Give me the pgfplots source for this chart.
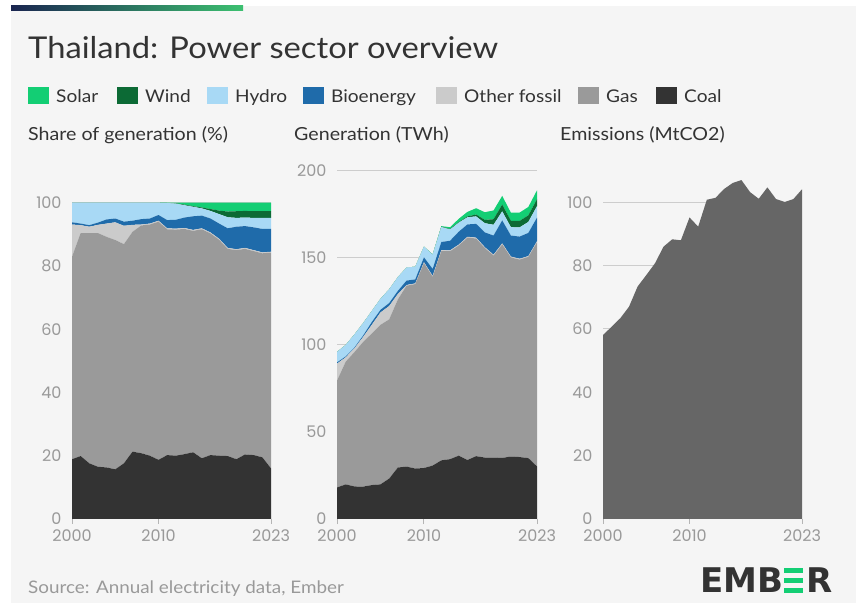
\documentclass[border=0pt]{standalone}
\usepackage{pgfplots}
\pgfplotsset{compat=1.18}
\usepackage{pgfplotstable}
\usepackage{fontspec}
\setmainfont{Lato}[FakeStretch=1.09]
\newfontfamily\numfont{Poppins}
\newfontfamily\logofont{DejaVu Sans}

\definecolor{bg}{HTML}{F5F5F5}
\definecolor{solar}{HTML}{13CE74}
\definecolor{wind}{HTML}{0C6A35}
\definecolor{hydro}{HTML}{A8D9F5}
\definecolor{bio}{HTML}{1F6BAA}
\definecolor{otherfossil}{HTML}{CBCBCB}
\definecolor{gas}{HTML}{9A9A9A}
\definecolor{coal}{HTML}{333333}
\definecolor{emis}{HTML}{666666}
\definecolor{textdark}{HTML}{333333}
\definecolor{tickgray}{HTML}{999999}
\definecolor{gridgray}{HTML}{CDCDCD}
\definecolor{axisgray}{HTML}{B5B5B5}
\definecolor{navy}{HTML}{1A2550}
\definecolor{embergreen}{HTML}{3CC070}

% share of generation (%)
\pgfplotstableread{
year coal gas other bio hydro wind solar
2000 18.9 64.0 10.2 0.7 6.2 0 0
2001 19.9 70.5 2.5 0.5 6.6 0 0
2002 17.6 72.8 2.0 0.5 7.1 0 0
2003 16.5 73.9 2.6 0.7 6.3 0 0
2004 16.3 72.9 4.2 1.3 5.3 0 0
2005 15.7 72.5 5.6 1.2 5.0 0 0
2006 17.6 69.3 5.8 1.3 6.0 0 0
2007 21.3 69.5 2.2 1.3 5.7 0 0
2008 20.8 72.0 0.3 1.7 5.2 0 0
2009 20.0 73.1 0.3 1.6 5.0 0 0
2010 18.7 75.3 0.3 1.8 3.9 0 0
2011 20.2 71.4 0.3 2.6 5.4 0 0.1
2012 20.0 71.5 0.3 2.8 5.1 0.1 0.2
2013 20.5 71.2 0.3 3.3 3.9 0.2 0.6
2014 21.1 70.0 0.3 4.3 3.0 0.2 1.1
2015 19.2 72.4 0.3 4.0 2.3 0.3 1.5
2016 20.2 70.1 0.3 4.4 2.4 0.6 2.0
2017 20.0 68.3 0.3 4.8 3.0 1.1 2.5
2018 19.9 65.5 0.3 6.2 3.5 1.8 2.8
2019 18.9 66.1 0.3 7.1 2.8 2.1 2.7
2020 20.4 65.0 0.3 6.9 2.7 2.1 2.6
2021 20.2 64.5 0.3 7.2 3.0 2.1 2.7
2022 19.5 64.5 0.3 7.4 3.5 2.1 2.7
2023 16.0 68.2 0.3 7.2 3.5 2.1 2.7
}\sharetab

% generation (TWh)
\pgfplotstableread{
year coal gas other bio hydro wind solar
2000 18.1 61.4 9.8 0.7 6.0 0 0
2001 19.9 70.5 2.5 0.5 6.6 0 0
2002 18.7 77.2 2.1 0.5 7.5 0 0
2003 18.6 83.1 2.9 0.8 7.1 0 0
2004 19.5 87.1 5.0 1.6 6.3 0 0
2005 19.9 91.7 7.1 1.5 6.3 0 0
2006 23.2 91.5 7.7 1.7 7.9 0 0
2007 29.6 96.6 3.1 1.8 7.9 0 0
2008 30.1 104.0 0.4 2.5 7.5 0 0
2009 29.0 106.0 0.4 2.3 7.3 0 0
2010 29.3 117.8 0.5 2.8 6.1 0 0
2011 30.7 108.5 0.5 4.0 8.2 0 0.2
2012 33.7 120.3 0.5 4.7 8.6 0.2 0.3
2013 34.4 119.5 0.5 5.5 6.5 0.3 1.0
2014 36.4 120.8 0.5 7.4 5.2 0.3 1.9
2015 33.9 127.8 0.5 7.1 4.1 0.5 2.6
2016 36.1 125.1 0.5 7.9 4.3 1.1 3.6
2017 35.3 120.4 0.5 8.5 5.3 1.9 4.4
2018 35.3 116.1 0.5 11.0 6.2 3.2 5.0
2019 35.1 122.7 0.6 13.2 5.2 3.9 5.0
2020 35.9 114.4 0.5 12.1 4.8 3.7 4.6
2021 35.6 113.5 0.5 12.7 5.3 3.7 4.8
2022 35.0 115.6 0.5 13.3 6.3 3.8 4.8
2023 30.2 128.8 0.6 13.6 6.6 4.0 5.1
}\twhtab

% emissions (MtCO2)
\pgfplotstableread{
year co2
2000 58.1
2001 60.7
2002 63.4
2003 67.0
2004 73.4
2005 77.0
2006 80.7
2007 86.0
2008 88.3
2009 88.0
2010 95.2
2011 92.3
2012 100.8
2013 101.4
2014 104.2
2015 106.1
2016 107.0
2017 103.2
2018 101.1
2019 104.7
2020 101.0
2021 100.1
2022 101.0
2023 104.1
}\emtab

\pgfplotsset{
  ember/.style={
    scale only axis,
    xmin=2000, xmax=2023, ymin=0,
    xtick={2000,2010,2023},
    xticklabels={2000,2010,2023},
    axis x line*=bottom,
    axis y line*=left,
    x axis line style={draw=axisgray, line width=1pt, -},
    y axis line style={draw=none},
    xtick style={draw=axisgray, line width=1pt},
    ytick style={draw=none},
    tick align=outside,
    major tick length=5pt,
    ymajorgrids,
    grid style={draw=gridgray, line width=1pt},
    /pgf/number format/assume math mode=true,
    ticklabel style={font=\numfont\fontsize{16}{16}\selectfont, text=tickgray},
    yticklabel style={xshift=-2pt},
    xticklabel style={yshift=-2pt},
  },
  lay/.style={draw=none, fill=#1},
}

\begin{document}
\begin{tikzpicture}
\begin{scope}[x=1pt, y=1pt]
\fill[white] (0,0) rectangle (856,607);
\fill[bg] (11,4) rectangle (856,601);
\shade[left color=navy, right color=embergreen] (11,596) rectangle (243,601);

\node[anchor=base west, inner sep=0, text=textdark, font=\fontsize{30}{30}\selectfont] at (28,548) {Thailand: Power sector overview};

% legend
\foreach \xx/\cc/\tt in {28/solar/Solar, 117/wind/Wind, 207/hydro/Hydro, 303/bio/Bioenergy, 436/otherfossil/Other fossil, 578/gas/Gas, 656/coal/Coal}{
  \fill[\cc] (\xx,503) rectangle +(21,17);
  \node[anchor=base west, inner sep=0, text=textdark, font=\fontsize{17.5}{17.5}\selectfont] at (\xx+28,504) {\tt};
}

\node[anchor=base west, inner sep=0, text=textdark, font=\fontsize{18}{18}\selectfont] at (28,466) {Share of generation (\%)};
\node[anchor=base west, inner sep=0, text=textdark, font=\fontsize{18}{18}\selectfont] at (294,466) {Generation (TWh)};
\node[anchor=base west, inner sep=0, text=textdark, font=\fontsize{18}{18}\selectfont] at (560,466) {Emissions (MtCO2)};

\node[anchor=base west, inner sep=0, text=tickgray, font=\fontsize{17.3}{17.3}\selectfont] at (28,13) {Source: Annual electricity data, Ember};

% logo
\begin{scope}[text=textdark, font=\logofont\bfseries\fontsize{34}{34}\selectfont]
\node[anchor=base west, inner sep=0] at (700,14) {EMB};
\node[anchor=base west, inner sep=0] at (806,14) {R};
\end{scope}
\fill[solar] (784,34) rectangle (803,39);
\fill[solar] (784,24) rectangle (803,29);
\fill[solar] (784,14) rectangle (803,19);
\end{scope}

% panel 1
\begin{axis}[ember, at={(72pt,88pt)}, anchor=south west, width=199pt, height=316.3pt,
  ymax=100, ytick={0,20,40,60,80,100}, stack plots=y]
\addplot[lay=coal] table[x=year,y=coal] {\sharetab} \closedcycle;
\addplot[lay=gas] table[x=year,y=gas] {\sharetab} \closedcycle;
\addplot[lay=otherfossil] table[x=year,y=other] {\sharetab} \closedcycle;
\addplot[lay=bio] table[x=year,y=bio] {\sharetab} \closedcycle;
\addplot[lay=hydro] table[x=year,y=hydro] {\sharetab} \closedcycle;
\addplot[lay=wind] table[x=year,y=wind] {\sharetab} \closedcycle;
\addplot[lay=solar] table[x=year,y=solar] {\sharetab} \closedcycle;
\end{axis}

% panel 2
\begin{axis}[ember, at={(337pt,88pt)}, anchor=south west, width=200pt, height=348pt,
  ymax=200, ytick={0,50,100,150,200}, stack plots=y]
\addplot[lay=coal] table[x=year,y=coal] {\twhtab} \closedcycle;
\addplot[lay=gas] table[x=year,y=gas] {\twhtab} \closedcycle;
\addplot[lay=otherfossil] table[x=year,y=other] {\twhtab} \closedcycle;
\addplot[lay=bio] table[x=year,y=bio] {\twhtab} \closedcycle;
\addplot[lay=hydro] table[x=year,y=hydro] {\twhtab} \closedcycle;
\addplot[lay=wind] table[x=year,y=wind] {\twhtab} \closedcycle;
\addplot[lay=solar] table[x=year,y=solar] {\twhtab} \closedcycle;
\end{axis}

% panel 3
\begin{axis}[ember, at={(603pt,88pt)}, anchor=south west, width=199pt, height=348.4pt,
  ymax=110, ytick={0,20,40,60,80,100}]
\addplot[lay=emis] table[x=year,y=co2] {\emtab} \closedcycle;
\end{axis}
\end{tikzpicture}
\end{document}
